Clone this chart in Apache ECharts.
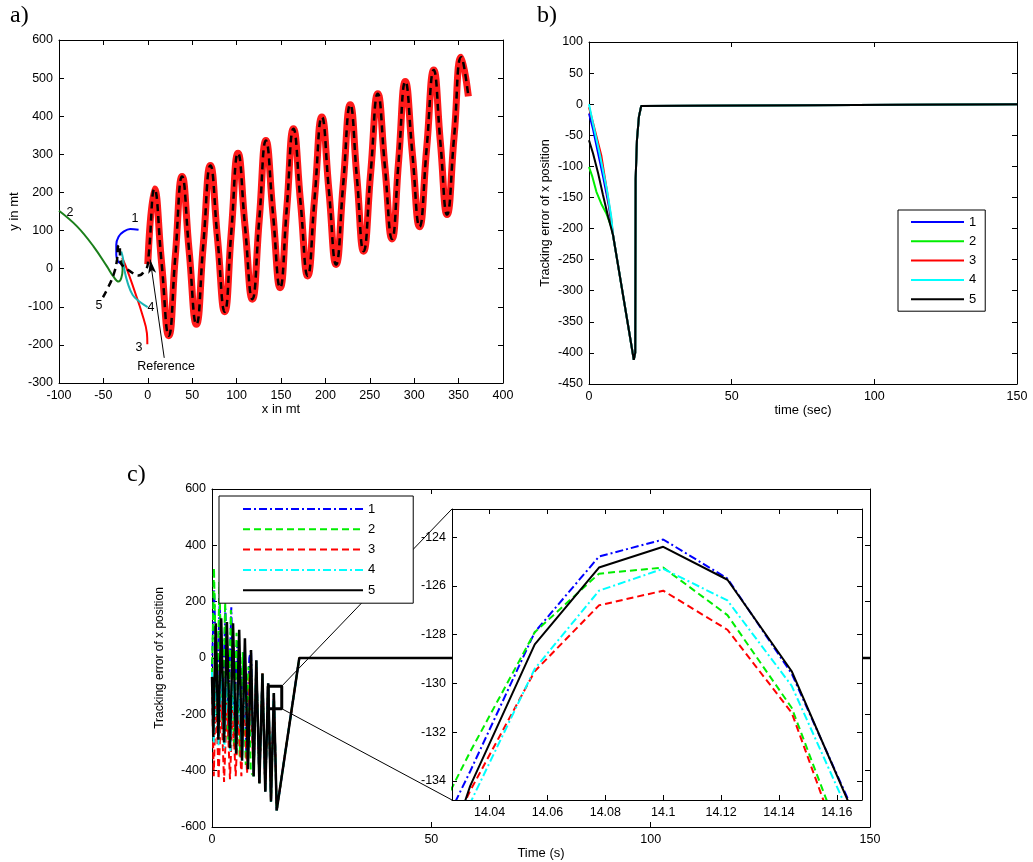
<!DOCTYPE html>
<html><head><meta charset="utf-8">
<script src="https://cdn.jsdelivr.net/npm/echarts@6/dist/echarts.min.js"></script>
<style>html,body{margin:0;padding:0;background:#fff}#main{width:1033px;height:862px}</style>
</head><body><div id="main"></div>
<script>
// ---------- Panel a: trajectories (x in mt, y in mt) ----------
const refPath = [[0,12],[7.5,209],[15.5,16],[23.6,-176],[31,33],[38.6,242],[46.5,48],[54.7,-146],[62.5,63],[70.5,271],[78.5,79],[86.6,-113],[94,95],[101.6,303],[109.5,111],[117.7,-80],[125.5,128],[133,336],[141,143],[149,-50],[156.5,158],[164,367],[172,174],[180,-19],[188,190],[196,398],[204,204],[212,11],[220,220],[228,430],[235.5,238],[243,46],[251,252],[259,459],[267,268],[275,78],[282.5,284],[290,491],[298,300],[306,110],[314,315],[322,521],[329.5,331],[337,142],[345,348],[353,555],[361,452]];
const a1Path = [[-10.4,102],[-19.8,104],[-27.3,97],[-32.9,84],[-35.5,63],[-35.5,36],[-33.6,19],[-31,15]];
const a2Path = [[-100,152],[-79.7,111],[-61,58],[-46,6],[-38.6,-21],[-32.9,-34],[-29.9,-25],[-28.4,-3],[-29,23]];
const a3Path = [[-0.5,-198],[-1,-169],[-6.6,-117],[-14.1,-64],[-20.5,-21],[-25.4,10],[-29,28]];
const a4Path = [[-0.2,-101],[-9.5,-86],[-17,-69],[-22.6,-38],[-26.4,-3],[-28,28],[-29.9,45]];
const a5Head = [[-50.5,-75],[-44.2,-47],[-38.6,-16],[-34.7,23],[-33.6,58],[-31.8,63],[-31,23],[-29.1,10],[-19.8,-7],[-10.4,-18],[-2.9,-3]];
const arrowFrom = [18.5,-234], arrowTo = [2.7,24];

// ---------- Panel b: tracking error vs time (sec) ----------
const b1Head = [[0,-15],[1.4,-40],[3,-75],[5,-118],[7,-165]];
const b2Head = [[0,-101],[1.2,-117],[2.6,-141],[4.3,-160],[6.1,-176],[7.8,-197]];
const b3Head = [[0,-5],[1.4,-30],[4.3,-82],[6.3,-140],[7.8,-185]];
const b4Head = [[0,0],[1.4,-31],[3.7,-79],[6.3,-138],[7.8,-181]];
const b5Head = [[0,-58],[1.4,-79],[3.2,-111],[4.9,-146],[6.7,-181]];
const bTail = [[8.4,-210],[10,-254],[12,-309],[14,-364],[15.7,-411],[16.2,-400],[16.35,-120],[16.8,-58],[17.5,-20],[18.3,-3],[19,0],[150,0]];

// ---------- Panel c: tracking error vs time (s) ----------
const c5Pts = [[0,-67],[0.3,-280],[0.85,123],[1.45,-290],[2.1,141],[2.75,-300],[3.4,128],[4.1,-320],[4.8,123],[5.5,-340],[6.2,100],[6.85,-365],[7.5,70],[8.2,-395],[8.9,28],[9.5,-420],[10.1,-8],[10.8,-445],[11.5,-55],[12.15,-475],[12.8,-90],[13.45,-510],[14.1,-124],[14.75,-541],[19.9,0],[150,0]];
const c1Head = [[0,-30],[0.5,240],[1.1,-150],[1.75,200],[2.4,-180],[3.05,175],[3.75,-210],[4.4,180],[5.05,-240],[5.7,60],[6.4,-280],[7.1,20],[7.8,-330],[8.5,0]];
const c2Head = [[0,-60],[0.45,320],[1.1,-200],[1.7,270],[2.4,-250],[3.0,200],[3.7,-290],[4.3,170],[5.0,-320],[5.6,90],[6.3,-350],[7.0,20],[7.7,-380],[8.3,-30],[8.85,-405]];
const c3Head = [[0,-100],[0.4,-420],[0.9,-120],[1.5,-430],[2.1,-150],[2.75,-440],[3.4,-160],[4.1,-430],[4.7,-180],[5.4,-420],[6.0,-200],[6.7,-420],[7.3,-150],[8.0,-410],[8.6,-50]];
const c4Head = [[0,-50],[0.4,-300],[1.0,-20],[1.5,-310],[2.2,-50],[2.8,-320],[3.5,-60],[4.2,-330],[4.8,-80],[5.5,-335],[6.1,-100],[6.9,-345],[7.5,-60],[8.2,-360],[8.9,-20]];
const zoomBox = [[12.8,-100],[15.9,-100],[15.9,-180],[12.8,-180],[12.8,-100]];
const connTop = [[15.9,-100],[54.7,529]];
const connBot = [[15.9,-180],[54.7,-504]];

// ---------- Inset (zoom around t = 14.1 s) ----------
const insetT = [14.0111,14.0333,14.0556,14.0778,14.1,14.1222,14.1444,14.1667,14.1889];
const i1 = [-139,-133.6,-127.9,-124.8,-124.1,-125.7,-129.6,-135.5,-142];
const i2 = [-138,-132.8,-127.9,-125.5,-125.25,-127.2,-131.0,-138,-145];
const i3 = [-140,-134.4,-129.5,-126.8,-126.2,-127.8,-131.2,-138.5,-146];
const i4 = [-141,-134.9,-129.4,-126.2,-125.3,-126.6,-130.1,-136,-143];
const i5 = [-142,-134.2,-128.4,-125.25,-124.4,-125.75,-129.5,-135.6,-142];
const insetXTicks = [14.04,14.06,14.08,14.1,14.12,14.14,14.16];
const insetYTicks = [-134,-132,-130,-128,-126,-124];

const FONT = 'Liberation Sans, Arial, Helvetica, sans-serif';
const SERIF = 'Liberation Serif, Times New Roman, serif';

function ax(grid, pos, min, max, interval, labels, extra) {
  const o = {
    type: 'value', gridIndex: grid, position: pos, min: min, max: max,
    axisLine: {show: true, onZero: false, lineStyle: {color: '#000', width: 1}},
    axisTick: {show: true, inside: true, length: 5, lineStyle: {color: '#000'}},
    axisLabel: {show: labels, color: '#000', fontSize: 12.5, fontFamily: FONT, margin: 6},
    splitLine: {show: false}
  };
  if (interval != null) o.interval = interval;
  return Object.assign(o, extra || {});
}
const nameStyle = {color: '#000', fontSize: 13, fontFamily: FONT};

const insetXExtra = {
  axisTick: {show: true, inside: true, length: 5, lineStyle: {color: '#000'}, customValues: insetXTicks},
  z: 12
};
const insetYExtra = {
  axisTick: {show: true, inside: true, length: 5, lineStyle: {color: '#000'}, customValues: insetYTicks},
  z: 12
};

const xAxis = [
  ax(0, 'bottom', -100, 400, 50, true, {name: 'x in mt', nameLocation: 'middle', nameGap: 19, nameTextStyle: nameStyle}),
  ax(0, 'top', -100, 400, 50, false),
  ax(1, 'bottom', 0, 150, 50, true, {name: 'time (sec)', nameLocation: 'middle', nameGap: 19, nameTextStyle: nameStyle}),
  ax(1, 'top', 0, 150, 50, false),
  ax(2, 'bottom', 0, 150, 50, true, {name: 'Time (s)', nameLocation: 'middle', nameGap: 19, nameTextStyle: nameStyle}),
  ax(2, 'top', 0, 150, 50, false),
  ax(3, 'bottom', 14.027, 14.1687, null, true, Object.assign({}, insetXExtra, {
    axisLabel: {show: true, color: '#000', fontSize: 12.5, fontFamily: FONT, margin: 6, customValues: insetXTicks,
      formatter: v => String(parseFloat(Number(v).toFixed(2)))}})),
  ax(3, 'top', 14.027, 14.1687, null, false, insetXExtra)
];
const yAxis = [
  ax(0, 'left', -300, 600, 100, true, {name: 'y in mt', nameLocation: 'middle', nameGap: 38, nameTextStyle: nameStyle}),
  ax(0, 'right', -300, 600, 100, false),
  ax(1, 'left', -450, 100, 50, true, {name: 'Tracking error of x position', nameLocation: 'middle', nameGap: 37, nameTextStyle: Object.assign({}, nameStyle, {fontSize: 12.5})}),
  ax(1, 'right', -450, 100, 50, false),
  ax(2, 'left', -600, 600, 200, true, {name: 'Tracking error of x position', nameLocation: 'middle', nameGap: 46, nameTextStyle: Object.assign({}, nameStyle, {fontSize: 12})}),
  ax(2, 'right', -600, 600, 200, false),
  ax(3, 'left', -134.78, -122.85, null, true, Object.assign({}, insetYExtra, {
    axisLabel: {show: true, color: '#000', fontSize: 12.5, fontFamily: FONT, margin: 6, customValues: insetYTicks}})),
  ax(3, 'right', -134.78, -122.85, null, false, insetYExtra)
];

function ln(name, g, data, color, width, type, extra) {
  return Object.assign({
    name: name, type: 'line', xAxisIndex: 2 * g, yAxisIndex: 2 * g, data: data,
    symbol: 'none', showSymbol: false, animation: false,
    lineStyle: {color: color, width: width, type: type || 'solid'},
    itemStyle: {color: color}
  }, extra || {});
}
const DASH = [7, 4];
const DASHDOT = [8, 3, 2, 3];
const merge = (head, from) => head.concat(c5Pts.filter(p => p[0] >= from));
const insetSeries = (arr) => insetT.map((t, k) => [t, arr[k]]);

const series = [
  // panel a
  ln('aRef', 0, refPath, '#ff1a1a', 7, 'solid', {smooth: 0.5}),
  ln('a1', 0, a1Path, '#0000ff', 2, 'solid', {smooth: 0.4}),
  ln('a2', 0, a2Path, '#1a7f1a', 2, 'solid', {smooth: 0.4}),
  ln('a3', 0, a3Path, '#ff0000', 2, 'solid', {smooth: 0.4}),
  ln('a4', 0, a4Path, '#19b3b3', 2, 'solid', {smooth: 0.4}),
  ln('a5', 0, a5Head.concat(refPath), '#000000', 2.5, [7, 5], {smooth: 0.5, z: 3,
    markLine: {silent: true, symbol: ['none', 'arrow'], symbolSize: [6, 14], label: {show: false},
      lineStyle: {color: '#000', width: 1, type: 'solid'},
      data: [[{coord: arrowFrom}, {coord: arrowTo}]]}}),
  // panel b
  ln('b1', 1, b1Head.concat(bTail), '#0000ff', 2),
  ln('b2', 1, b2Head.concat(bTail), '#00ee00', 2),
  ln('b3', 1, b3Head.concat(bTail), '#ff0000', 2),
  ln('b4', 1, b4Head.concat(bTail), '#00ffff', 2),
  ln('b5', 1, b5Head.concat(bTail), '#000000', 2),
  // panel c
  ln('c1', 2, merge(c1Head, 8.9), '#0000ff', 2, DASHDOT),
  ln('c2', 2, merge(c2Head, 9.5), '#00ee00', 2, DASH),
  ln('c3', 2, merge(c3Head, 9.5), '#ff0000', 2, DASH),
  ln('c4', 2, merge(c4Head, 9.5), '#00ffff', 2, DASHDOT),
  ln('c5', 2, c5Pts, '#000000', 2.5),
  ln('box', 2, zoomBox, '#000000', 3, 'solid', {z: 3}),
  ln('ct', 2, connTop, '#000000', 1, 'solid', {z: 3}),
  ln('cb', 2, connBot, '#000000', 1, 'solid', {z: 3}),
  // inset
  ln('i1', 3, insetSeries(i1), '#0000ff', 2, DASHDOT, {z: 11}),
  ln('i2', 3, insetSeries(i2), '#00ee00', 2, DASH, {z: 11}),
  ln('i3', 3, insetSeries(i3), '#ff0000', 2, DASH, {z: 11}),
  ln('i4', 3, insetSeries(i4), '#00ffff', 2, DASHDOT, {z: 11}),
  ln('i5', 3, insetSeries(i5), '#000000', 2, 'solid', {z: 11})
];

const legendCommon = {
  orient: 'vertical', selectedMode: false, borderColor: '#000', borderWidth: 1,
  backgroundColor: '#fff', formatter: n => n.slice(1),
  itemStyle: {color: 'rgba(0,0,0,0)', borderWidth: 0, opacity: 0},
  textStyle: {color: '#000', fontSize: 13, fontFamily: FONT, lineHeight: 14}
};

const option = {
  animation: false,
  backgroundColor: '#fff',
  grid: [
    {left: 59, top: 40, width: 444, height: 343},
    {left: 589, top: 42, width: 428, height: 342},
    {left: 212, top: 489, width: 658, height: 338},
    {left: 452, top: 509, width: 410, height: 291, show: true, backgroundColor: '#fff', borderWidth: 0, z: 10}
  ],
  xAxis: xAxis,
  yAxis: yAxis,
  legend: [
    Object.assign({}, legendCommon, {data: ['b1','b2','b3','b4','b5'], left: 898, top: 210,
      itemWidth: 53, itemHeight: 14, itemGap: 5.3, padding: [5, 9, 5, 12]}),
    Object.assign({}, legendCommon, {data: ['c1','c2','c3','c4','c5'], left: 219, top: 496,
      itemWidth: 120, itemHeight: 14, itemGap: 6.3, padding: [6, 38, 6, 23]})
  ],
  graphic: [
    {type: 'text', left: 10, top: 4, style: {text: 'a)', font: '24px ' + SERIF, fill: '#000'}},
    {type: 'text', left: 537, top: 4, style: {text: 'b)', font: '24px ' + SERIF, fill: '#000'}},
    {type: 'text', left: 127, top: 463, style: {text: 'c)', font: '24px ' + SERIF, fill: '#000'}},
    {type: 'text', x: 135, y: 219, style: {text: '1', font: '12.5px ' + FONT, fill: '#000', align: 'center', verticalAlign: 'middle'}},
    {type: 'text', x: 70, y: 213, style: {text: '2', font: '12.5px ' + FONT, fill: '#000', align: 'center', verticalAlign: 'middle'}},
    {type: 'text', x: 139, y: 348, style: {text: '3', font: '12.5px ' + FONT, fill: '#000', align: 'center', verticalAlign: 'middle'}},
    {type: 'text', x: 151, y: 308, style: {text: '4', font: '12.5px ' + FONT, fill: '#000', align: 'center', verticalAlign: 'middle'}},
    {type: 'text', x: 99, y: 306, style: {text: '5', font: '12.5px ' + FONT, fill: '#000', align: 'center', verticalAlign: 'middle'}},
    {type: 'text', x: 166, y: 367, style: {text: 'Reference', font: '12.5px ' + FONT, fill: '#000', align: 'center', verticalAlign: 'middle'}}
  ],
  series: series
};
const chart = echarts.init(document.getElementById('main'), null, {renderer: 'canvas'});
chart.setOption(option);
</script></body></html>
